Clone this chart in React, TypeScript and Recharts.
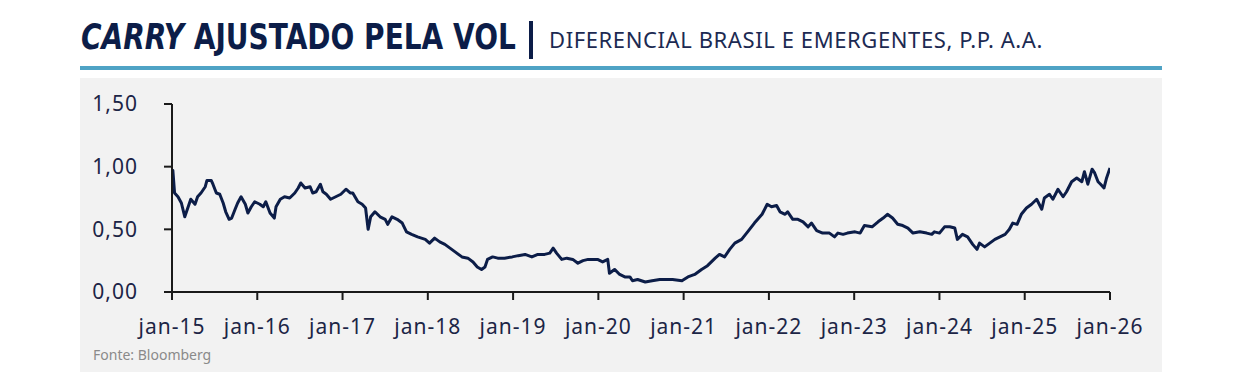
import React from 'react';
import { LineChart, Line, XAxis, YAxis } from 'recharts';

const carryTime = [
  2015.00, 2015.01, 2015.03, 2015.07, 2015.11, 2015.15, 2015.19, 2015.22, 2015.27, 2015.30,
  2015.34, 2015.39, 2015.41, 2015.46, 2015.48, 2015.52, 2015.56, 2015.60, 2015.63, 2015.67,
  2015.70, 2015.74, 2015.77, 2015.81, 2015.86, 2015.89, 2015.93, 2015.97, 2016.03, 2016.07,
  2016.10, 2016.15, 2016.20, 2016.22, 2016.27, 2016.32, 2016.38, 2016.44, 2016.48, 2016.51,
  2016.56, 2016.62, 2016.65, 2016.69, 2016.74, 2016.77, 2016.81, 2016.86, 2016.92, 2016.98,
  2017.04, 2017.09, 2017.12, 2017.18, 2017.23, 2017.27, 2017.30, 2017.33, 2017.38, 2017.44,
  2017.50, 2017.53, 2017.58, 2017.64, 2017.70, 2017.75, 2017.81, 2017.88, 2017.97, 2018.02,
  2018.08, 2018.14, 2018.20, 2018.26, 2018.32, 2018.40, 2018.47, 2018.53, 2018.58, 2018.63,
  2018.67, 2018.70, 2018.76, 2018.82, 2018.90, 2018.99, 2019.06, 2019.14, 2019.22, 2019.29,
  2019.37, 2019.43, 2019.47, 2019.51, 2019.57, 2019.63, 2019.70, 2019.76, 2019.82, 2019.88,
  2019.94, 2019.99, 2020.05, 2020.11, 2020.13, 2020.19, 2020.25, 2020.31, 2020.37, 2020.40,
  2020.46, 2020.55, 2020.63, 2020.72, 2020.80, 2020.87, 2020.98, 2021.05, 2021.13, 2021.21,
  2021.28, 2021.37, 2021.42, 2021.48, 2021.54, 2021.60, 2021.68, 2021.75, 2021.83, 2021.92,
  2021.98, 2022.03, 2022.09, 2022.13, 2022.19, 2022.22, 2022.28, 2022.34, 2022.40, 2022.46,
  2022.50, 2022.56, 2022.63, 2022.71, 2022.77, 2022.81, 2022.87, 2022.92, 2023.01, 2023.07,
  2023.12, 2023.21, 2023.28, 2023.34, 2023.39, 2023.45, 2023.51, 2023.57, 2023.63, 2023.69,
  2023.77, 2023.85, 2023.91, 2023.94, 2024.00, 2024.06, 2024.12, 2024.18, 2024.21, 2024.27,
  2024.33, 2024.39, 2024.44, 2024.47, 2024.53, 2024.59, 2024.65, 2024.71, 2024.77, 2024.82,
  2024.86, 2024.91, 2024.96, 2025.02, 2025.08, 2025.14, 2025.20, 2025.23, 2025.29, 2025.33,
  2025.39, 2025.45, 2025.49, 2025.55, 2025.61, 2025.67, 2025.70, 2025.74, 2025.79, 2025.82,
  2025.86, 2025.89, 2025.93, 2025.96, 2026.00,
];

const carryValues = [
  0.95, 0.97, 0.79, 0.76, 0.71, 0.60, 0.68, 0.74, 0.70, 0.76,
  0.79, 0.84, 0.89, 0.89, 0.86, 0.79, 0.78, 0.71, 0.64, 0.58,
  0.59, 0.66, 0.71, 0.76, 0.70, 0.63, 0.68, 0.72, 0.70, 0.68,
  0.72, 0.63, 0.59, 0.68, 0.74, 0.76, 0.75, 0.79, 0.83, 0.87,
  0.83, 0.84, 0.79, 0.80, 0.86, 0.80, 0.78, 0.74, 0.76, 0.78,
  0.82, 0.79, 0.79, 0.72, 0.70, 0.67, 0.50, 0.60, 0.64, 0.60,
  0.58, 0.54, 0.60, 0.58, 0.55, 0.48, 0.46, 0.44, 0.42, 0.39,
  0.43, 0.40, 0.38, 0.35, 0.32, 0.28, 0.27, 0.24, 0.20, 0.18,
  0.20, 0.26, 0.28, 0.27, 0.27, 0.28, 0.29, 0.30, 0.28, 0.30,
  0.30, 0.31, 0.35, 0.31, 0.26, 0.27, 0.26, 0.23, 0.25, 0.26,
  0.26, 0.26, 0.24, 0.26, 0.15, 0.18, 0.14, 0.12, 0.12, 0.09,
  0.10, 0.08, 0.09, 0.10, 0.10, 0.10, 0.09, 0.12, 0.14, 0.18,
  0.21, 0.27, 0.30, 0.28, 0.34, 0.39, 0.42, 0.48, 0.55, 0.62,
  0.70, 0.68, 0.69, 0.64, 0.62, 0.64, 0.58, 0.58, 0.56, 0.52,
  0.55, 0.49, 0.47, 0.47, 0.44, 0.47, 0.46, 0.47, 0.48, 0.47,
  0.53, 0.52, 0.56, 0.59, 0.62, 0.59, 0.54, 0.53, 0.51, 0.47,
  0.48, 0.47, 0.46, 0.48, 0.47, 0.52, 0.52, 0.51, 0.42, 0.46,
  0.44, 0.38, 0.34, 0.39, 0.36, 0.39, 0.42, 0.44, 0.46, 0.50,
  0.55, 0.54, 0.62, 0.67, 0.70, 0.74, 0.66, 0.75, 0.78, 0.74,
  0.82, 0.76, 0.80, 0.88, 0.91, 0.88, 0.96, 0.86, 0.98, 0.95,
  0.88, 0.86, 0.83, 0.91, 0.99,
];

const xTicks = [2015, 2016, 2017, 2018, 2019, 2020, 2021, 2022, 2023, 2024, 2025, 2026];
const xTickLabels = ['jan-15', 'jan-16', 'jan-17', 'jan-18', 'jan-19', 'jan-20', 'jan-21', 'jan-22', 'jan-23', 'jan-24', 'jan-25', 'jan-26'];
const yTicks = [0, 0.5, 1.0, 1.5];
const yTickLabels = ['0,00', '0,50', '1,00', '1,50'];

const data = carryTime.map((t, i) => ({ t, v: carryValues[i] }));

const NAVY = '#0c1d48';
const AXIS = '#1a1a1a';
const tickStyle = { fill: '#1c2546', fontSize: 21, fontFamily: 'Noto Sans, sans-serif', letterSpacing: 1 };
const titleFont = "'DejaVu Sans', sans-serif";

export default function App() {
  return (
    <div style={{ position: 'absolute', left: 0, top: 0, width: 1240, height: 381, background: '#ffffff', overflow: 'hidden' }}>
      <svg width={1240} height={64} style={{ position: 'absolute', left: 0, top: 0 }}>
        <g transform="translate(81,49) scale(0.80,1)">
          <text x={0} y={0} fontFamily={titleFont} fontWeight={700} fontSize={35} fill={NAVY}>
            <tspan fontStyle="italic">CARRY</tspan>
            <tspan> AJUSTADO PELA VOL</tspan>
          </text>
        </g>
        <rect x={529} y={21} width={4} height={38} fill={NAVY} />
        <text x={549} y={48} fontFamily="'Noto Sans', sans-serif" fontSize={22} letterSpacing={0.6} fill="#1c2a52">DIFERENCIAL BRASIL E EMERGENTES, P.P. A.A.</text>
      </svg>
      <div style={{ position: 'absolute', left: 80, top: 66, width: 1082, height: 4, background: '#4fa3c5' }} />
      <div style={{ position: 'absolute', left: 80, top: 78, width: 1082, height: 294, background: '#f2f2f2' }}>
        <LineChart width={1082} height={294} data={data} margin={{ top: 26, right: 52, bottom: 40, left: 0 }}>
          <XAxis
            dataKey="t"
            type="number"
            domain={[2015, 2026]}
            ticks={xTicks}
            tickFormatter={(v: number) => xTickLabels[xTicks.indexOf(v)] ?? ''}
            interval={0}
            height={40}
            tickSize={8}
            tickMargin={19}
            axisLine={{ stroke: AXIS, strokeWidth: 2 }}
            tickLine={{ stroke: AXIS, strokeWidth: 2 }}
            tick={tickStyle}
            allowDataOverflow
          />
          <YAxis
            type="number"
            domain={[0, 1.5]}
            ticks={yTicks}
            tickFormatter={(v: number) => yTickLabels[yTicks.indexOf(v)] ?? ''}
            interval={0}
            width={92}
            tickSize={8}
            tickMargin={26}
            axisLine={{ stroke: AXIS, strokeWidth: 2 }}
            tickLine={{ stroke: AXIS, strokeWidth: 2 }}
            tick={tickStyle}
          />
          <Line type="linear" dataKey="v" stroke={NAVY} strokeWidth={3} dot={false} isAnimationActive={false} strokeLinejoin="round" />
        </LineChart>
        <div style={{ position: 'absolute', left: 13, top: 267, fontFamily: "'Noto Sans', sans-serif", fontSize: 14, color: '#8a8a8a' }}>Fonte: Bloomberg</div>
      </div>
    </div>
  );
}
